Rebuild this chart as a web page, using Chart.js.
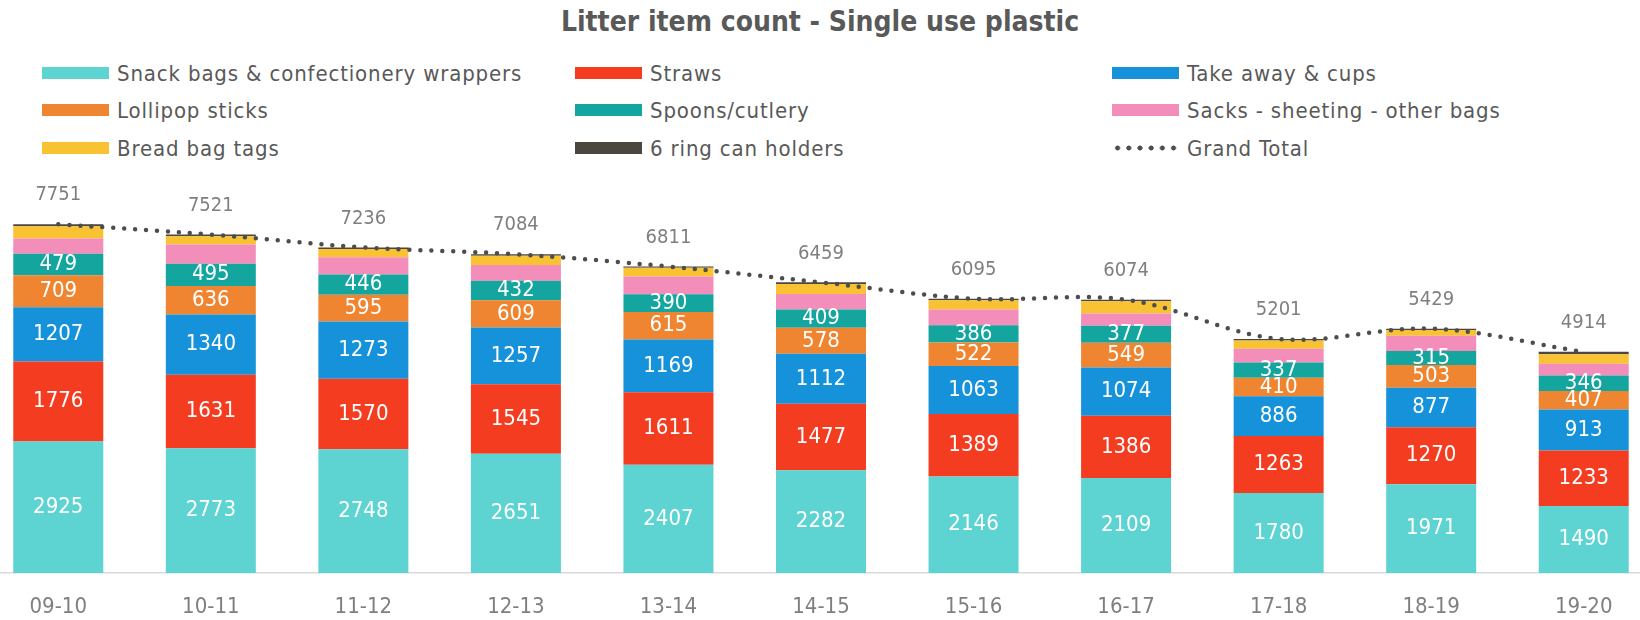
<!DOCTYPE html>
<html>
<head>
<meta charset="utf-8">
<script src="https://cdn.jsdelivr.net/npm/chart.js@4/dist/chart.umd.min.js"></script>
<style>
  body { margin: 0; background: #fff; overflow: hidden; }
  #page { position: relative; width: 1640px; height: 620px; overflow: hidden;
          font-family: "DejaVu Sans Condensed", "Liberation Sans Narrow", Roboto, sans-serif; }
  #title { position: absolute; left: 0; width: 1640px; top: 5px; text-align: center;
           font-size: 28px; font-weight: bold; color: #595959; }
  #legend { position: absolute; left: 0; top: 0; }
  .item { position: absolute; height: 30px; display: flex; align-items: center;
          font-size: 22px; letter-spacing: 0.85px; color: #595959; white-space: nowrap; }
  .box { width: 67px; height: 12px; margin-right: 8px; }
  .dots { width: 67px; height: 12px; margin-right: 8px;
          background: radial-gradient(circle, #4d4d4d 2.2px, transparent 2.8px) 0 0 / 11.2px 12px repeat-x; }
  #wrap { position: absolute; left: -18px; top: 0; width: 1678px; height: 620px; }
</style>
</head>
<body>
<div id="page">
  <div id="title">Litter item count - Single use plastic</div>
  <div id="legend"></div>
  <div id="wrap"><canvas id="chart"></canvas></div>
</div>
<script>
const categories = ['09-10', '10-11', '11-12', '12-13', '13-14', '14-15', '15-16', '16-17', '17-18', '18-19', '19-20'];

const snackBags = [2925, 2773, 2748, 2651, 2407, 2282, 2146, 2109, 1780, 1971, 1490];
const straws = [1776, 1631, 1570, 1545, 1611, 1477, 1389, 1386, 1263, 1270, 1233];
const takeAway = [1207, 1340, 1273, 1257, 1169, 1112, 1063, 1074, 886, 877, 913];
const lollipop = [709, 636, 595, 609, 615, 578, 522, 549, 410, 503, 407];
const spoons = [479, 495, 446, 432, 390, 409, 386, 377, 337, 315, 346];
const sacks = [335, 426, 386, 353, 399, 344, 352, 272, 309, 339, 263];
const breadTags = [275, 180, 180, 205, 190, 220, 201, 272, 180, 123, 210];
const canHolders = [45, 40, 38, 32, 30, 37, 36, 35, 36, 31, 52];
const grandTotal = [7751, 7521, 7236, 7084, 6811, 6459, 6095, 6074, 5201, 5429, 4914];

const FONT = '"DejaVu Sans Condensed", "Liberation Sans Narrow", Roboto, sans-serif';
Chart.defaults.font.family = FONT;

function bar(label, data, color, showValue) {
  return { type: 'bar', label: label, data: data, backgroundColor: color,
           order: 1, showValue: showValue };
}

const datasets = [
  bar('Snack bags & confectionery wrappers', snackBags, '#5dd3d2', true),
  bar('Straws', straws, '#f43c20', true),
  bar('Take away & cups', takeAway, '#1592d9', true),
  bar('Lollipop sticks', lollipop, '#ef8531', true),
  bar('Spoons/cutlery', spoons, '#14a59f', true),
  bar('Sacks - sheeting - other bags', sacks, '#f38dba', false),
  bar('Bread bag tags', breadTags, '#f8c233', false),
  bar('6 ring can holders', canHolders, '#4b4640', false),
  {
    type: 'line', label: 'Grand Total', data: grandTotal, stack: 'total', order: 0,
    borderColor: '#4d4d4d', borderWidth: 4.5, borderDash: [0, 11], borderCapStyle: 'round',
    pointRadius: 0, tension: 0.35, fill: false
  }
];

// value labels inside segments and totals above bars
const valueLabels = {
  id: 'valueLabels',
  afterDatasetsDraw(chart) {
    const ctx = chart.ctx;
    ctx.save();
    ctx.textAlign = 'center';
    ctx.textBaseline = 'middle';
    chart.data.datasets.forEach((ds, i) => {
      const meta = chart.getDatasetMeta(i);
      if (ds.type === 'bar' && ds.showValue) {
        ctx.font = '22px ' + FONT;
        ctx.fillStyle = '#ffffff';
        meta.data.forEach((el, j) => {
          ctx.fillText(String(ds.data[j]), el.x, (el.y + el.base) / 2);
        });
      } else if (ds.type === 'line') {
        ctx.font = '20px ' + FONT;
        ctx.fillStyle = '#7f7f7f';
        meta.data.forEach((el, j) => {
          ctx.fillText(String(ds.data[j]), el.x, el.y - 29);
        });
      }
    });
    ctx.restore();
  }
};

const chart = new Chart(document.getElementById('chart'), {
  data: { labels: categories, datasets: datasets },
  options: {
    responsive: true,
    maintainAspectRatio: false,
    animation: false,
    layout: { padding: { top: 213, left: 0, right: 0, bottom: 0 } },
    datasets: { bar: { categoryPercentage: 1, barPercentage: 0.59 } },
    scales: {
      x: {
        stacked: true,
        grid: { display: false },
        border: { display: true, color: '#d9d9d9', width: 1.5 },
        ticks: { color: '#7f7f7f', font: { size: 22 }, padding: 13 },
        afterFit: (scale) => { scale.height = 47; }
      },
      y: { stacked: true, display: false, min: 0, max: 8000 }
    },
    plugins: {
      legend: { display: false },
      title: { display: false },
      tooltip: { enabled: false }
    }
  },
  plugins: [valueLabels]
});

// legend in three columns, built from the chart's datasets
const colLeft = [42, 575, 1112];
const rowMid = [73, 110, 148];
const legendEl = document.getElementById('legend');
chart.data.datasets.forEach((ds, i) => {
  const item = document.createElement('div');
  item.className = 'item';
  item.style.left = colLeft[i % 3] + 'px';
  item.style.top = (rowMid[Math.floor(i / 3)] - 15) + 'px';
  const sw = document.createElement('span');
  if (ds.type === 'line') {
    sw.className = 'dots';
  } else {
    sw.className = 'box';
    sw.style.background = ds.backgroundColor;
  }
  item.appendChild(sw);
  item.appendChild(document.createTextNode(ds.label));
  legendEl.appendChild(item);
});
</script>
</body>
</html>
